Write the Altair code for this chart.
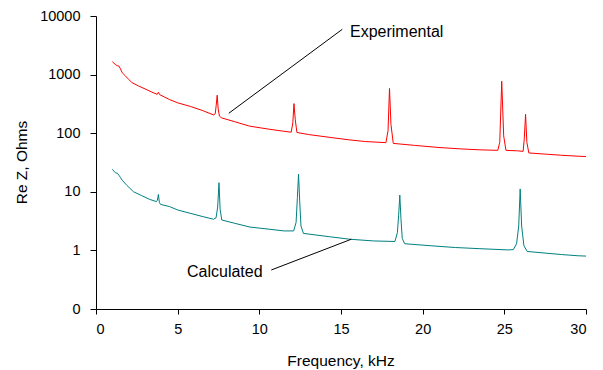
import altair as alt
import pandas as pd

# Experimental (red) series: frequency (kHz), Re Z (Ohms)
exp_f = [1.0, 1.1, 1.2, 1.3, 1.4, 1.5, 1.6, 1.8, 2.0, 2.2, 2.6, 3.0, 3.4, 3.75, 3.82, 3.9,
         4.5, 5.0, 5.8, 6.5, 7.2, 7.3, 7.36, 7.42, 7.48, 7.56, 7.7, 8.5, 9.4, 10.6, 11.5,
         11.95, 12.05, 12.12, 12.2, 12.3, 13.0, 14.3, 15.5, 16.5, 17.75, 17.88, 17.97, 18.06,
         18.2, 19.5, 21.0, 22.3, 23.5, 24.6, 24.72, 24.84, 24.96, 25.1, 25.8, 26.15, 26.22,
         26.3, 26.38, 26.5, 27.5, 28.5, 29.5, 30.0]
exp_v = [1660, 1560, 1480, 1420, 1400, 1250, 1080, 950, 830, 730, 640, 570, 505, 460, 500, 455,
         375, 330, 285, 245, 205, 215, 300, 445, 260, 195, 182, 157, 132, 117, 108,
         104, 150, 320, 170, 103, 95, 85, 77, 72, 69, 110, 580, 140,
         67, 62, 57, 54, 52, 51, 70, 770, 90, 51, 50, 49, 80,
         210, 70, 46, 44, 42, 40.5, 40]

# Calculated (teal) series
calc_f = [1.0, 1.1, 1.2, 1.3, 1.4, 1.5, 1.6, 1.9, 2.3, 2.8, 3.3, 3.7, 3.76, 3.82, 3.88, 3.95,
          4.5, 5.0, 5.76, 6.5, 7.2, 7.35, 7.45, 7.53, 7.6, 7.7, 8.5, 9.43, 10.6, 11.5, 12.1,
          12.25, 12.33, 12.4, 12.47, 12.55, 12.7, 14.3, 15.55, 17.0, 18.3, 18.45, 18.53, 18.6,
          18.67, 18.75, 18.9, 20.5, 22.0, 23.5, 25.2, 25.55, 25.75, 25.88, 25.97, 26.06, 26.2,
          26.4, 27.5, 28.5, 29.5, 30.0]
calc_v = [24.2, 22.5, 21.0, 20.8, 19.2, 17.5, 15.8, 12.8, 10.0, 8.6, 7.4, 6.8, 7.2, 9.0, 6.6, 6.1,
          5.6, 4.9, 4.3, 3.8, 3.4, 3.6, 5.5, 14.3, 5.0, 3.3, 2.9, 2.5, 2.3, 2.15, 2.15,
          3.0, 8.0, 20.0, 7.0, 2.6, 1.95, 1.71, 1.55, 1.45, 1.42, 2.0, 4.0, 8.8,
          3.5, 1.6, 1.3, 1.2, 1.12, 1.07, 1.02, 1.03, 1.3, 2.6, 11.2, 2.6, 1.2,
          0.96, 0.9, 0.85, 0.81, 0.8]

series_names = ["Experimental", "Calculated"]
series_colors = ["#FF0000", "#008080"]

x_ticks = [0, 5, 10, 15, 20, 25, 30]
y_ticks = [0.1, 1, 10, 100, 1000, 10000]

# Annotation leader lines (data coordinates) and labels
ann_f1 = [15.08, 10.73]
ann_v1 = [5930, 0.463]
ann_f2 = [8.13, 15.63]
ann_v2 = [219, 1.55]
lab_text = ["Experimental", "Calculated"]
lab_f = [15.55, 10.2]
lab_v = [5400, 0.428]
lab_align = ["left", "right"]

df = pd.concat([
    pd.DataFrame({"f": exp_f, "v": exp_v, "s": series_names[0]}),
    pd.DataFrame({"f": calc_f, "v": calc_v, "s": series_names[1]}),
])
ann = pd.DataFrame({"f1": ann_f1, "v1": ann_v1, "f2": ann_f2, "v2": ann_v2})
labs = pd.DataFrame({"t": lab_text, "f": lab_f, "v": lab_v, "a": lab_align})

xscale = alt.Scale(domain=[0, 30], nice=False)
yscale = alt.Scale(type="log", domain=[0.1, 10000], nice=False)

xaxis = alt.Axis(values=x_ticks, title="Frequency, kHz", grid=False, tickSize=5,
                 labelPadding=8, titleX=244.5, titleY=51, titleBaseline="middle",
                 titleAlign="center")
yaxis = alt.Axis(values=y_ticks, title="Re Z, Ohms", grid=False, tickSize=6,
                 labelPadding=10,
                 labelExpr="datum.value < 0.5 ? '0' : format(datum.value, 'd')",
                 titleX=-75, titleY=146, titleBaseline="middle", titleAlign="center",
                 titleAngle=270)

lines = alt.Chart(df).mark_line(strokeWidth=1).encode(
    x=alt.X("f:Q", scale=xscale, axis=xaxis),
    y=alt.Y("v:Q", scale=yscale, axis=yaxis),
    color=alt.Color("s:N", scale=alt.Scale(domain=series_names, range=series_colors), legend=None),
    detail="s:N",
)

rules = alt.Chart(ann).mark_rule(color="black", strokeWidth=1).encode(
    x="f1:Q", y="v1:Q", x2="f2:Q", y2="v2:Q"
)

texts_left = alt.Chart(labs[labs.a == "left"]).mark_text(
    align="left", baseline="middle", fontSize=16, color="black"
).encode(x="f:Q", y="v:Q", text="t:N")
texts_right = alt.Chart(labs[labs.a == "right"]).mark_text(
    align="right", baseline="middle", fontSize=16, color="black"
).encode(x="f:Q", y="v:Q", text="t:N")

chart = alt.layer(lines, rules, texts_left, texts_right).properties(
    width=490, height=293,
    padding={"left": 96, "top": 16, "right": 17, "bottom": 61},
    autosize="none",
    background="white",
).configure_view(stroke=None).configure_axis(
    domainColor="black", tickColor="black", labelColor="black", titleColor="black",
    labelFont="Liberation Sans", titleFont="Liberation Sans", labelFontSize=14.5,
    titleFontSize=15.5, titleFontWeight="normal", domainWidth=1, tickWidth=1,
).configure_text(font="Liberation Sans")

chart.save("out.html", embed_options={"renderer": "svg", "actions": False})
